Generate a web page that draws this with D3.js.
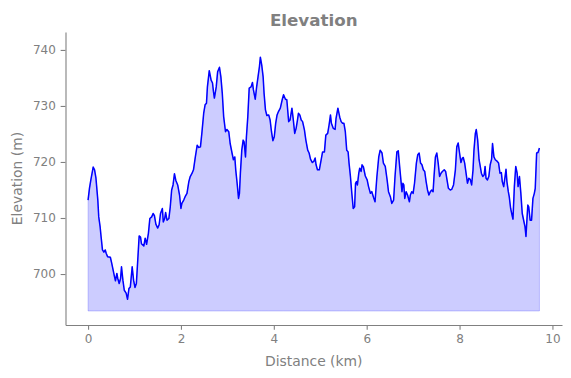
<!DOCTYPE html>
<html>
<head>
<meta charset="utf-8">
<script src="https://cdn.jsdelivr.net/npm/d3@7"></script>
<style>
  html, body { margin: 0; padding: 0; background: #ffffff; }
  svg { display: block; font-family: "DejaVu Sans", sans-serif; }
</style>
</head>
<body>
<svg id="chart" width="571" height="378"></svg>
<script>
// ---- data ----
const distanceKm = [
  0.00,0.03,0.06,0.11,0.14,0.17,0.21,0.23,0.26,0.28,0.31,0.34,0.37,0.39,0.42,0.48,0.51,0.54,0.57,0.59,
  0.62,0.64,0.67,0.70,0.72,0.75,0.78,0.82,0.85,0.88,0.91,0.95,0.98,1.01,1.04,1.07,1.10,1.13,1.15,1.20,
  1.23,1.26,1.30,1.33,1.37,1.40,1.43,1.46,1.50,1.53,1.56,1.60,1.62,1.65,1.67,1.70,1.74,1.77,1.80,1.83,
  1.86,1.89,1.93,1.97,2.00,2.02,2.06,2.09,2.13,2.17,2.20,2.24,2.27,2.31,2.35,2.38,2.42,2.45,2.49,2.52,
  2.55,2.57,2.61,2.65,2.68,2.70,2.72,2.76,2.79,2.83,2.86,2.89,2.92,2.96,2.99,3.03,3.06,3.10,3.13,3.16,
  3.18,3.21,3.24,3.26,3.28,3.31,3.34,3.36,3.39,3.41,3.44,3.47,3.51,3.54,3.56,3.60,3.63,3.66,3.69,3.71,
  3.74,3.77,3.79,3.82,3.85,3.89,3.92,3.95,3.98,4.01,4.04,4.07,4.10,4.14,4.18,4.21,4.25,4.28,4.32,4.35,
  4.39,4.42,4.45,4.48,4.51,4.53,4.56,4.59,4.62,4.66,4.69,4.73,4.76,4.79,4.83,4.86,4.89,4.91,4.94,4.98,
  5.02,5.05,5.09,5.12,5.16,5.19,5.22,5.24,5.28,5.32,5.34,5.38,5.42,5.45,5.48,5.51,5.54,5.57,5.60,5.62,
  5.65,5.68,5.71,5.74,5.76,5.78,5.80,5.83,5.85,5.88,5.90,5.93,5.97,6.01,6.04,6.08,6.11,6.15,6.18,6.22,
  6.26,6.29,6.33,6.36,6.40,6.44,6.47,6.51,6.54,6.58,6.61,6.65,6.68,6.71,6.74,6.76,6.78,6.80,6.82,6.85,
  6.88,6.92,6.94,6.97,7.00,7.03,7.07,7.10,7.13,7.16,7.19,7.22,7.25,7.28,7.31,7.34,7.37,7.40,7.43,7.45,
  7.48,7.51,7.54,7.57,7.60,7.63,7.67,7.70,7.73,7.76,7.80,7.83,7.87,7.91,7.94,7.97,8.00,8.03,8.06,8.08,
  8.11,8.14,8.17,8.20,8.23,8.26,8.29,8.31,8.34,8.36,8.39,8.42,8.44,8.47,8.50,8.53,8.55,8.57,8.60,8.63,
  8.66,8.69,8.71,8.74,8.77,8.80,8.84,8.87,8.90,8.92,8.95,8.98,9.00,9.02,9.05,9.07,9.10,9.13,9.15,9.18,
  9.21,9.24,9.26,9.29,9.32,9.35,9.38,9.41,9.43,9.45,9.47,9.49,9.52,9.55,9.58,9.61,9.63,9.66,9.69,9.72
];
const elevationM = [
  713.2,715.3,716.8,719.1,718.6,717.1,713.2,710.2,708.4,706.7,704.3,703.9,704.3,703.7,703.1,703.0,701.9,700.7,699.5,698.8,
  700.1,699.2,698.3,699.2,701.3,698.9,697.1,696.6,695.5,697.4,697.7,701.3,698.9,697.6,698.3,702.5,706.8,706.6,705.4,705.0,
  706.4,705.3,707.3,709.9,710.2,710.8,710.4,708.9,708.2,708.8,710.8,711.7,709.3,709.9,711.0,709.6,709.9,712.0,715.0,715.9,
  717.9,716.7,715.9,714.1,711.7,712.6,713.2,713.8,714.4,716.5,717.4,718.0,718.6,720.9,723.0,722.6,722.7,725.1,728.7,730.2,
  730.5,733.4,736.3,734.6,734.1,732.6,731.4,733.4,736.1,736.9,735.2,732.3,728.1,725.4,725.8,725.4,723.3,721.6,720.4,720.9,
  718.6,716.2,713.5,714.4,718.0,722.1,723.9,723.6,720.9,724.5,728.1,733.2,733.4,734.2,732.9,731.2,733.4,735.2,737.0,738.7,
  737.3,735.2,732.3,729.3,728.3,728.4,727.5,725.4,723.8,724.5,726.9,728.4,729.0,729.6,731.1,732.0,731.2,731.1,727.2,727.5,
  729.6,727.5,725.1,726.0,727.5,728.7,728.4,727.5,727.2,725.7,723.9,722.1,721.6,720.5,719.9,720.1,720.7,719.5,718.6,718.6,
  720.4,721.8,721.8,724.8,725.1,726.6,728.4,726.9,726.0,725.8,727.8,729.6,728.0,727.2,726.9,726.9,725.4,722.1,721.8,719.8,
  717.4,714.4,711.7,712.0,716.2,716.5,715.9,718.0,718.9,718.3,719.5,719.1,717.5,716.8,715.6,714.4,714.7,713.6,712.9,717.4,
  720.9,722.1,721.6,719.8,719.2,716.8,714.7,713.8,712.6,713.2,717.4,721.8,722.0,719.2,716.5,714.7,716.2,715.9,713.5,714.7,
  714.1,712.9,714.1,714.7,714.4,716.2,719.8,721.3,721.6,719.8,719.5,718.6,718.3,716.5,715.0,714.1,714.7,715.0,714.7,717.4,
  720.9,721.6,719.8,717.4,718.0,718.3,718.6,718.3,716.8,715.3,715.0,715.1,715.9,718.6,722.7,723.4,721.6,719.9,720.7,720.8,
  719.8,718.0,716.2,717.1,716.9,715.9,718.6,722.1,725.1,725.8,723.9,720.4,719.5,718.0,717.4,717.7,719.2,717.1,716.8,717.4,
  719.5,720.5,723.3,720.9,720.4,720.2,719.8,718.0,718.1,716.5,715.6,717.4,718.7,716.5,714.7,713.8,711.7,710.5,709.8,715.6,
  719.2,718.0,715.6,717.4,714.4,710.8,709.6,708.4,706.7,709.6,712.3,712.0,709.6,709.6,713.5,714.4,715.3,721.6,721.7,722.5
];
const fillBaseM = 693.4;
const xTickValues = [0, 2, 4, 6, 8, 10];
const yTickValues = [700, 710, 720, 730, 740];
const titleText = "Elevation";
const xLabelText = "Distance (km)";
const yLabelText = "Elevation (m)";

// ---- layout ----
const W = 571, H = 378;
const plot = { left: 65.5, right: 562, top: 32, bottom: 325 };
const textGray = "#808080";
const tickLen = 4.86, tickPad = 4.86;

const data = distanceKm.map((d, i) => ({ x: d, y: elevationM[i] }));

const x = d3.scaleLinear().domain([-0.486, 10.206]).range([plot.left, plot.right]);
const y = d3.scaleLinear().domain([690.9, 743.2]).range([plot.bottom, plot.top]);

const svg = d3.select("#chart");

// area fill
const area = d3.area()
  .x(d => x(d.x))
  .y0(y(fillBaseM))
  .y1(d => y(d.y));
svg.append("path")
  .datum(data)
  .attr("d", area)
  .attr("fill", "rgba(0,0,255,0.2)")
  .attr("stroke", "rgba(0,0,255,0.2)")
  .attr("stroke-width", 1);

// line
const line = d3.line().x(d => x(d.x)).y(d => y(d.y));
svg.append("path")
  .datum(data)
  .attr("d", line)
  .attr("fill", "none")
  .attr("stroke", "#0000ff")
  .attr("stroke-width", 1.5)
  .attr("stroke-linejoin", "round");

// axes
const xAxis = d3.axisBottom(x).tickValues(xTickValues).tickFormat(d3.format("d"))
  .tickSizeInner(tickLen).tickSizeOuter(0).tickPadding(tickPad);
const yAxis = d3.axisLeft(y).tickValues(yTickValues).tickFormat(d3.format("d"))
  .tickSizeInner(tickLen).tickSizeOuter(0).tickPadding(tickPad);

const gx = svg.append("g").attr("transform", `translate(0,${plot.bottom})`).call(xAxis);
const gy = svg.append("g").attr("transform", `translate(${plot.left},0)`).call(yAxis);

[gx, gy].forEach(g => {
  g.select(".domain").attr("stroke", textGray).attr("stroke-width", 1.1);
  g.selectAll(".tick line").attr("stroke", textGray).attr("stroke-width", 1.1);
  g.selectAll(".tick text")
    .attr("fill", textGray)
    .style("font-family", "'DejaVu Sans', sans-serif")
    .style("font-size", "12px");
});

// labels
svg.append("text")
  .attr("x", (plot.left + plot.right) / 2)
  .attr("y", 26)
  .attr("text-anchor", "middle")
  .attr("fill", textGray)
  .style("font-size", "16.7px")
  .style("font-weight", "bold")
  .text(titleText);

svg.append("text")
  .attr("x", (plot.left + plot.right) / 2)
  .attr("y", 365.5)
  .attr("text-anchor", "middle")
  .attr("fill", textGray)
  .style("font-size", "13.9px")
  .text(xLabelText);

svg.append("text")
  .attr("transform", `translate(22,${(plot.top + plot.bottom) / 2}) rotate(-90)`)
  .attr("text-anchor", "middle")
  .attr("fill", textGray)
  .style("font-size", "13.9px")
  .text(yLabelText);
</script>
</body>
</html>
